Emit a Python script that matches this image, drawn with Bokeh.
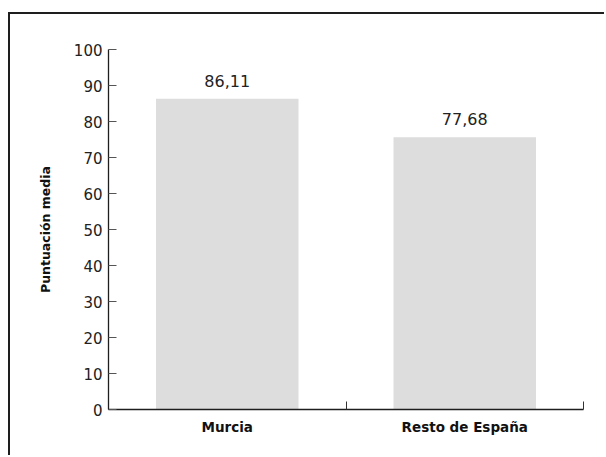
from bokeh.plotting import figure
from bokeh.models import FixedTicker, LabelSet, ColumnDataSource, Range1d
from bokeh.core.properties import value
from bokeh.embed import file_html
from bokeh.resources import INLINE

categories = ["Murcia", "Resto de España"]
bar_heights = [86.3, 75.6]
value_labels = ["86,11", "77,68"]
y_ticks = [0, 10, 20, 30, 40, 50, 60, 70, 80, 90, 100]

xs = [i + 0.5 for i in range(len(categories))]
bounds = list(range(len(categories) + 1))

src = ColumnDataSource(dict(x=xs, top=bar_heights, label=value_labels))

p = figure(width=596, height=443, output_backend="svg", toolbar_location=None,
           x_range=Range1d(0, len(categories)), y_range=Range1d(0, 100),
           min_border_left=98, min_border_right=23, min_border_top=35, min_border_bottom=48)
p.styles = {"margin-left": "8px", "margin-top": "12px",
            "border-left": "2px solid #1e1e1e", "border-top": "2px solid #1e1e1e"}
p.outline_line_color = None
p.grid.visible = False

p.vbar(x="x", top="top", width=0.6, source=src, color="#dddddd", line_color=None)

p.add_layout(LabelSet(x="x", y="top", text="label", source=src, text_align="center",
                      text_baseline="bottom", y_offset=12, text_font=value("DejaVu Sans"),
                      text_font_size=value("16px"), text_color="#222222"))

yax = p.yaxis[0]
yax.ticker = FixedTicker(ticks=y_ticks)
yax.major_tick_in = 8
yax.major_tick_out = 0
yax.minor_tick_line_color = None
yax.major_tick_line_color = "#555555"
yax.axis_line_color = "#1e1e1e"
yax.axis_line_width = 1.3
yax.major_label_text_font = "DejaVu Sans"
yax.major_label_text_font_size = "15px"
yax.major_label_text_color = "#222222"
yax.major_label_standoff = 6
yax.axis_label = "Puntuación media"
yax.axis_label_text_font = "DejaVu Sans"
yax.axis_label_text_font_style = "bold"
yax.axis_label_text_font_size = "12.5px"
yax.axis_label_text_color = "#111111"
yax.axis_label_standoff = 18

xax = p.xaxis[0]
xax.ticker = FixedTicker(ticks=xs, minor_ticks=bounds)
xax.major_label_overrides = {x: c for x, c in zip(xs, categories)}
xax.major_tick_in = 0
xax.major_tick_out = 0
xax.minor_tick_in = 8
xax.minor_tick_out = 0
xax.minor_tick_line_color = "#333333"
xax.axis_line_color = "#1e1e1e"
xax.axis_line_width = 1.3
xax.major_label_text_font = "DejaVu Sans"
xax.major_label_text_font_style = "bold"
xax.major_label_text_font_size = "13.5px"
xax.major_label_text_color = "#111111"
xax.major_label_standoff = 9

open("out.html", "w").write(file_html(p, INLINE))
